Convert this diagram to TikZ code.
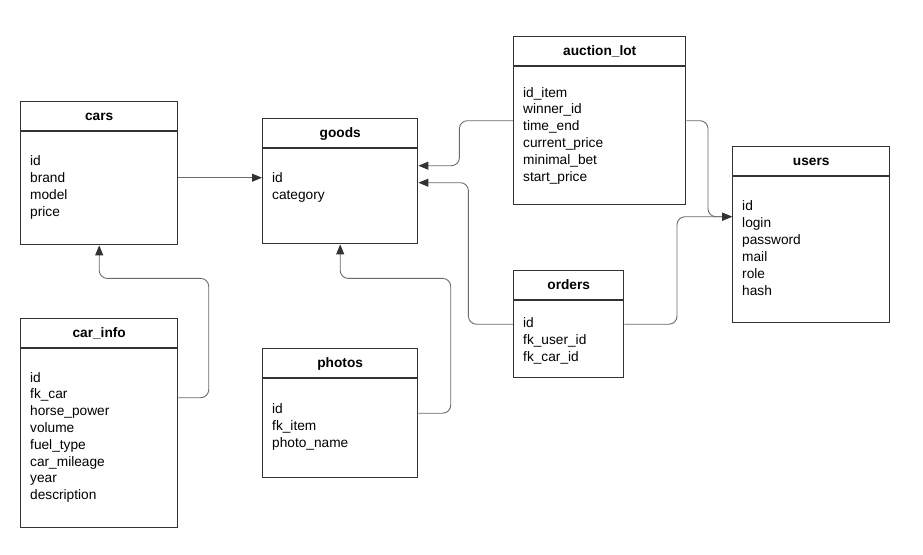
\documentclass[tikz,border=0pt]{standalone}
\usepackage{fontspec}
\setmainfont{Liberation Sans}
\usetikzlibrary{arrows.meta,calc}

\definecolor{boxline}{HTML}{333333}
\definecolor{connline}{HTML}{6A6A6A}
\definecolor{tiphead}{HTML}{333333}

% table box: outline, title strip and field list
\newcommand{\dbtable}[6]{%
  % #1 name, #2 top-left, #3 width, #4 height, #5 title, #6 field baseline offset
  \node[tablebox, minimum width=#3, minimum height=#4] (#1) at #2 {};
  \draw[boxline, line width=1.4pt] ($(#1.north west)+(0,30)$) -- ($(#1.north east)+(0,30)$);
  \node[titletext] (#1-title) at ($(#1.north)+(0,19)$) {#5};
  \coordinate (#1-f) at ($(#1.north west)+(10,#6)$);
}

\begin{document}
\begin{tikzpicture}[x=1pt, y=-1pt,
  tablebox/.style={draw=boxline, line width=1.4pt, fill=white, anchor=north west, inner sep=0pt},
  titletext/.style={anchor=base, inner sep=0pt, font=\fontsize{13.7}{17}\selectfont\bfseries, text=black},
  fieldtext/.style={anchor=base west, inner sep=0pt, font=\fontsize{13.7}{17}\selectfont, text=black},
  conn/.style={draw=connline, line width=0.9pt, rounded corners=8pt},
  tip/.style={-{Triangle[length=10pt,width=8pt,color=tiphead]}}
]
\useasboundingbox (0,0) rectangle (923,554);

\dbtable{cars}{(20,101)}{157pt}{143pt}{cars}{64}
\dbtable{goods}{(262,118)}{155pt}{125pt}{goods}{64}
\dbtable{auction}{(513,36)}{172pt}{168pt}{auction\_lot}{61}
\dbtable{users}{(732,146)}{157pt}{176pt}{users}{64}
\dbtable{orders}{(513,270)}{110pt}{107pt}{orders}{57}
\dbtable{carinfo}{(20,318)}{157pt}{209pt}{car\_info}{64}
\dbtable{photos}{(262,348)}{155pt}{129pt}{photos}{65}

% field lists
\foreach \t [count=\i from 0] in {id,brand,model,price}
  \node[fieldtext] (cars-\i) at ($(cars-f)+(0,17*\i)$) {\t};
\foreach \t [count=\i from 0] in {id,category}
  \node[fieldtext] (goods-\i) at ($(goods-f)+(0,17*\i)$) {\t};
\foreach \t [count=\i from 0] in {id\_item,winner\_id,time\_end,current\_price,minimal\_bet,start\_price}
  \node[fieldtext] (auction-\i) at ($(auction-f)+(0,16.8*\i)$) {\t};
\foreach \t [count=\i from 0] in {id,login,password,mail,role,hash}
  \node[fieldtext] (users-\i) at ($(users-f)+(0,17*\i)$) {\t};
\foreach \t [count=\i from 0] in {id,fk\_user\_id,fk\_car\_id}
  \node[fieldtext] (orders-\i) at ($(orders-f)+(0,17*\i)$) {\t};
\foreach \t [count=\i from 0] in {id,fk\_car,horse\_power,volume,fuel\_type,car\_mileage,year,description}
  \node[fieldtext] (carinfo-\i) at ($(carinfo-f)+(0,16.8*\i)$) {\t};
\foreach \t [count=\i from 0] in {id,fk\_item,photo\_name}
  \node[fieldtext] (photos-\i) at ($(photos-f)+(0,17*\i)$) {\t};

% relations
\draw[conn, tip] ($(cars.east)+(0,4.5)$) -- ($(cars.east -| goods.west)+(0,4.5)$);
\draw[conn, tip] ($(carinfo.east)+(0,-25.5)$) -| ($(cars.south)+(109.5,33)$)
  -- ($(cars.south)+(0,33)$) -- (cars.south);
\draw[conn, tip] (photos.east) -| ($(goods.south)+(110.5,34)$)
  -- ($(goods.south)+(0,34)$) -- (goods.south);
\draw[conn, tip] (auction.west) -| ($(goods.east)+(41,-15.5)$) -- ($(goods.east)+(0,-15.5)$);
\draw[conn, tip] (orders.west) -| ($(goods.east)+(50,1.5)$) -- ($(goods.east)+(0,1.5)$);
\draw[conn, tip] (auction.east) -| ($(users.west)+(-24,-18)$) -- ($(users.west)+(0,-18)$);
\draw[conn, tip] (orders.east) -| ($(users.west)+(-55,-18)$) -- ($(users.west)+(0,-18)$);
\end{tikzpicture}
\end{document}
